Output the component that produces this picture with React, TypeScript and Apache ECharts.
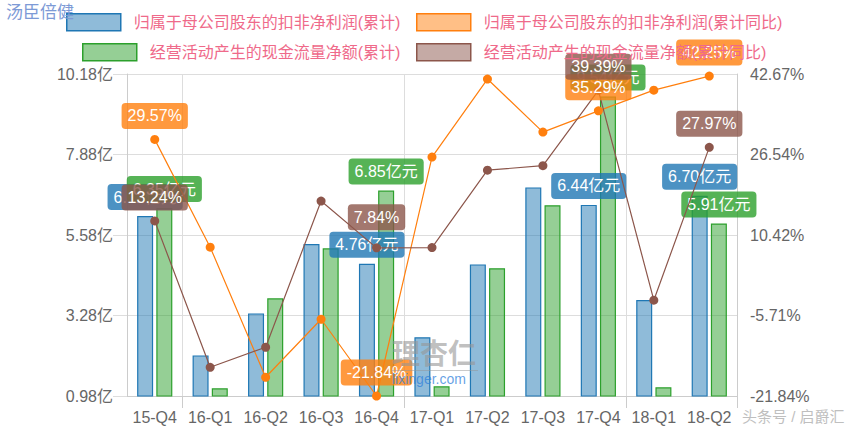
import React, { useEffect, useRef } from 'react';
import * as echarts from 'echarts';

const categories = ['15-Q4', '16-Q1', '16-Q2', '16-Q3', '16-Q4', '17-Q1', '17-Q2', '17-Q3', '17-Q4', '18-Q1', '18-Q2'];
const netProfit = [6.12, 2.14, 3.34, 5.32, 4.76, 2.66, 4.74, 6.94, 6.44, 3.72, 6.70];
const cashFlow = [6.35, 1.20, 3.77, 5.20, 6.85, 1.26, 4.63, 6.43, 9.54, 1.23, 5.91];
const netProfitYoY = [29.57, 7.98, -18.09, -6.46, -21.84, 26.02, 41.66, 31.03, 35.29, 39.43, 42.25];
const cashFlowYoY = [13.24, -16.09, -12.07, 17.21, 7.84, 7.90, 23.41, 24.30, 39.39, -2.65, 27.97];
const labelledIndices = [0, 4, 8, 10];
const leftTickLabels = ['0.98亿', '3.28亿', '5.58亿', '7.88亿', '10.18亿'];
const rightTickLabels = ['-21.84%', '-5.71%', '10.42%', '26.54%', '42.67%'];
const yearStarts = ['16-Q1', '17-Q1', '18-Q1'];
const seriesNames = [
  '归属于母公司股东的扣非净利润(累计)',
  '归属于母公司股东的扣非净利润(累计同比)',
  '经营活动产生的现金流量净额(累计)',
  '经营活动产生的现金流量净额(累计同比)',
];

const FONT = "'Liberation Sans', 'Noto Sans CJK SC', sans-serif";
const BLUE = '#1f77b4';
const ORANGE = '#ff7f0e';
const GREEN = '#2ca02c';
const BROWN = '#8c564b';
const LEGEND_TEXT = '#ef6a8a';

function rgba(hex: string, a: number) {
  const n = parseInt(hex.slice(1), 16);
  return `rgba(${(n >> 16) & 255},${(n >> 8) & 255},${n & 255},${a})`;
}

function boxLabel(color: string, unit: string, offsetY = 0) {
  return {
    show: true,
    position: 'top',
    distance: 6,
    color: '#fff',
    fontSize: 16,
    lineHeight: 18,
    fontFamily: FONT,
    backgroundColor: rgba(color, 0.8),
    padding: [4, 6],
    borderRadius: 4,
    offset: [0, offsetY],
    formatter: (p: any) => `${Number(p.value).toFixed(2)}${unit}`,
  };
}

function withLabels(values: number[], color: string, unit: string, offsets: Record<number, number> = {}) {
  return values.map((v, i) =>
    labelledIndices.includes(i)
      ? { value: v, label: boxLabel(color, unit, offsets[i] || 0) }
      : { value: v }
  );
}

function legendFor(name: string, color: string, left: number, top: number) {
  return {
    data: [
      {
        name,
        icon: 'rect',
        itemStyle: { color: rgba(color, 0.5), borderColor: color, borderWidth: 1.5 },
      },
    ],
    left,
    top,
    padding: 0,
    itemWidth: 54,
    itemHeight: 17,
    selectedMode: false,
    textStyle: { fontSize: 16, color: LEGEND_TEXT, fontFamily: FONT, padding: [0, 0, 0, 8] },
  };
}

export default function App() {
  const ref = useRef<HTMLDivElement>(null);

  useEffect(() => {
    document.body.style.margin = '0';
    if (!ref.current) return;
    const chart = echarts.init(ref.current, undefined, { renderer: 'svg' });
    const yearInterval = (index: number, value: string) => yearStarts.includes(value);

    chart.setOption({
      animation: false,
      textStyle: { fontFamily: FONT },
      legend: [
        legendFor(seriesNames[0], BLUE, 66, 13),
        legendFor(seriesNames[1], ORANGE, 416, 13),
        legendFor(seriesNames[2], GREEN, 82, 43),
        legendFor(seriesNames[3], BROWN, 416, 43),
      ],
      grid: { left: 127, right: 129, top: 74, bottom: 37, containLabel: false },
      xAxis: {
        type: 'category',
        data: categories,
        boundaryGap: true,
        axisLine: { show: true, onZero: false, lineStyle: { color: '#cccccc', width: 1 } },
        axisTick: {
          show: true,
          length: 12,
          interval: yearInterval,
          lineStyle: { color: '#cccccc' },
        },
        splitLine: {
          show: true,
          interval: yearInterval,
          lineStyle: { color: '#dddddd', width: 1 },
        },
        axisLabel: { fontSize: 16, color: '#666', margin: 13, fontFamily: FONT, interval: 0 },
      },
      yAxis: [
        {
          type: 'value',
          min: 0.98,
          max: 10.18,
          interval: 2.3,
          axisLine: { show: true, lineStyle: { color: '#cccccc' } },
          axisTick: { show: true, length: 14, lineStyle: { color: '#dddddd' } },
          splitLine: { show: true, lineStyle: { color: '#dddddd', width: 1 } },
          axisLabel: {
            fontSize: 16,
            color: '#666',
            margin: 14,
            fontFamily: FONT,
            formatter: (v: number, i: number) => leftTickLabels[i] ?? '',
          },
        },
        {
          type: 'value',
          min: -21.84,
          max: 42.67,
          interval: 16.1275,
          position: 'right',
          axisLine: { show: true, onZero: false, lineStyle: { color: '#cccccc' } },
          axisTick: { show: false },
          splitLine: { show: false },
          axisLabel: {
            fontSize: 16,
            color: '#666',
            margin: 13,
            fontFamily: FONT,
            formatter: (v: number, i: number) => rightTickLabels[i] ?? '',
          },
        },
      ],
      series: [
        {
          name: seriesNames[0],
          type: 'bar',
          yAxisIndex: 0,
          barWidth: 16,
          barGap: '20%',
          itemStyle: { color: rgba(BLUE, 0.5), borderColor: BLUE, borderWidth: 1.2 },
          label: { show: false },
          data: withLabels(netProfit, BLUE, '亿元'),
        },
        {
          name: seriesNames[1],
          type: 'line',
          yAxisIndex: 1,
          symbol: 'circle',
          symbolSize: 9,
          itemStyle: { color: ORANGE },
          lineStyle: { color: ORANGE, width: 1.2 },
          label: { show: false },
          z: 3,
          data: withLabels(netProfitYoY, ORANGE, '%'),
        },
        {
          name: seriesNames[2],
          type: 'bar',
          yAxisIndex: 0,
          barWidth: 16,
          barGap: '20%',
          itemStyle: { color: rgba(GREEN, 0.5), borderColor: GREEN, borderWidth: 1.2 },
          label: { show: false },
          data: withLabels(cashFlow, GREEN, '亿元'),
        },
        {
          name: seriesNames[3],
          type: 'line',
          yAxisIndex: 1,
          symbol: 'circle',
          symbolSize: 9,
          itemStyle: { color: BROWN },
          lineStyle: { color: BROWN, width: 1.2 },
          label: { show: false },
          z: 3,
          data: withLabels(cashFlowYoY, BROWN, '%', { 4: -7 }),
        },
      ],
      graphic: [
        {
          type: 'text',
          left: 6,
          top: 4,
          z: 10,
          style: { text: '汤臣倍健', fontSize: 17, fill: '#7d9ad6', fontFamily: FONT },
        },
        {
          type: 'text',
          left: 742,
          top: 409,
          z: 10,
          style: { text: '头条号 / 启爵汇', fontSize: 15, fill: '#bfbfbf', fontFamily: FONT },
        },
        {
          type: 'text',
          left: 392,
          top: 340,
          z: 100,
          style: {
            text: '理杏仁',
            fontSize: 28,
            fontWeight: 'bold',
            fill: 'rgba(150,150,150,0.6)',
            fontFamily: FONT,
          },
        },
        {
          type: 'rect',
          left: 392,
          top: 370,
          z: 100,
          shape: { x: 0, y: 0, width: 86, height: 1 },
          style: { fill: 'rgba(150,150,150,0.5)' },
        },
        {
          type: 'text',
          left: 392,
          top: 372,
          z: 100,
          style: { text: 'lixinger.com', fontSize: 14, fill: 'rgba(50,130,220,0.75)', fontFamily: FONT },
        },
      ],
    });

    return () => chart.dispose();
  }, []);

  return <div ref={ref} style={{ width: 866, height: 433 }} />;
}
